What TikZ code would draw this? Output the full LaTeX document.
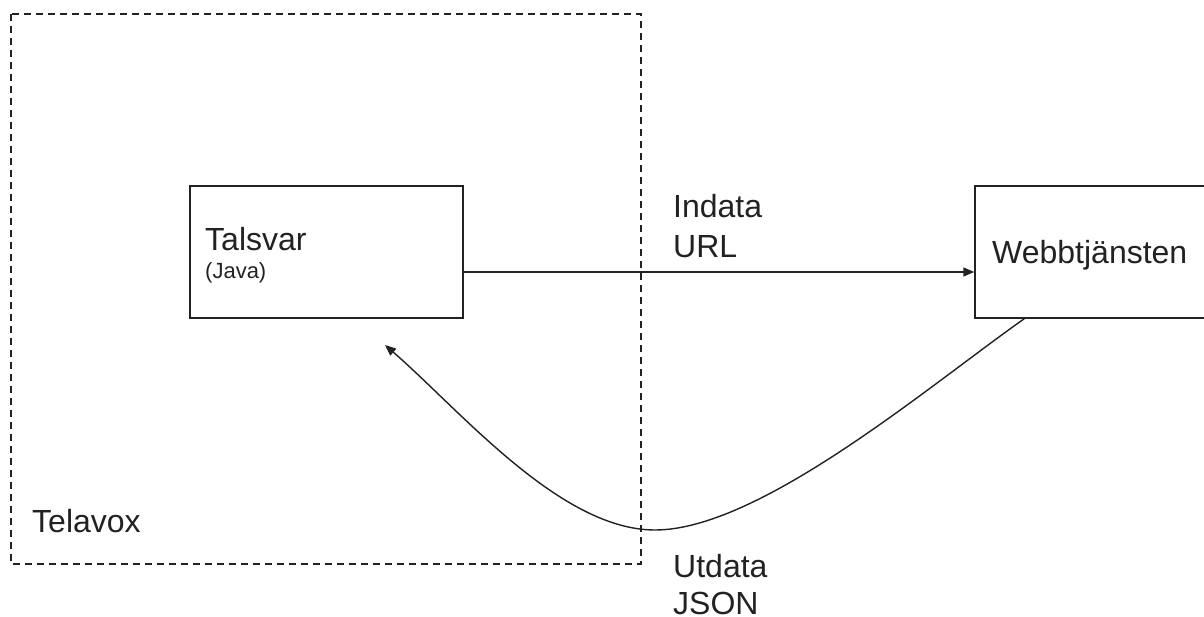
\documentclass[tikz,border=0pt]{standalone}
\usepackage{fontspec}
\setmainfont{Liberation Sans}
\usetikzlibrary{arrows.meta}
\definecolor{ink}{HTML}{222222}
\begin{document}
\begin{tikzpicture}[x=1pt,y=-1pt,
  boxline/.style={draw=ink,line width=1.4pt,rectangle,inner sep=0pt},
  zone/.style={draw=ink,line width=1.4pt,dash pattern=on 7pt off 5pt},
  big/.style={inner sep=0pt,anchor=base west,text=ink,font=\fontsize{32}{40}\selectfont},
  small/.style={inner sep=0pt,anchor=base west,text=ink,font=\fontsize{22}{26}\selectfont},
  link/.style={draw=ink,line width=1.4pt,-{Triangle[length=11pt,width=9pt]}}]
\useasboundingbox (0,0) rectangle (1204,617);
\clip (0,0) rectangle (1204,617);
\fill[white] (0,0) rectangle (1204,617);

% Telavox zone
\draw[zone] (11,14) rectangle (641,564);
\node[big] (telavox) at (32,532) {Telavox};

% Talsvar box
\node[boxline,minimum width=273pt,minimum height=132pt] (talsvar) at (326.5,252) {};
\node[big] (talsvarname) at (205,251) {Talsvar};
\node[small] (java) at (205,279) {(Java)};

% web service box, running past the right edge
\node[boxline,minimum width=265pt,minimum height=132pt] (webb) at (1107.5,252) {};
\node[big] (webbname) at (992,264) {Webbtjänsten};

% request
\draw[link] ([yshift=-20pt]talsvar.east) -- ([yshift=-20pt]webb.west);
\node[big] (indata) at (673,218) {Indata};
\node[big] (url) at (673,258) {URL};

% response
\coordinate (ret) at (385,345);
\draw[link] ([xshift=50pt]webb.south west)
  .. controls (930,385) and (760,530) .. (655,530)
  .. controls (560,530) and (460,410) .. (ret);
\node[big] (utdata) at (673,577) {Utdata};
\node[big] (json) at (673,614) {JSON};
\end{tikzpicture}
\end{document}
